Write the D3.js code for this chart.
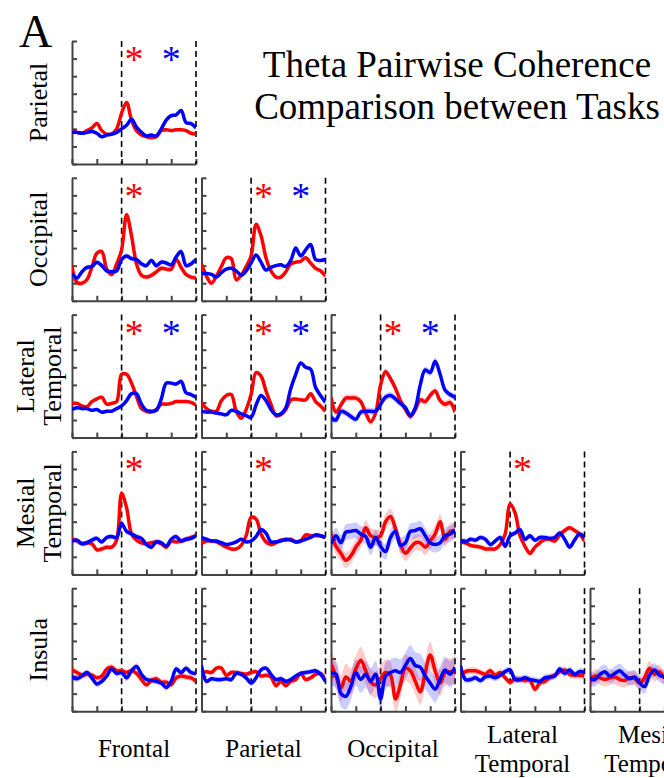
<!DOCTYPE html>
<html lang="en">
<head>
<meta charset="utf-8">
<title>Theta Pairwise Coherence</title>
<script src="https://d3js.org/d3.v7.min.js"></script>
<style>
  body { margin: 0; background: #fff; }
  svg text { font-family: "Liberation Serif", "Times New Roman", serif; }
</style>
</head>
<body>
<div id="chart"></div>
<script>
// time (s) relative to the event, dashed markers at 0 and 3
var times = [-2, -1.8, -1.6, -1.4, -1.2, -1, -0.8, -0.6, -0.4, -0.2, 0, 0.2, 0.4, 0.6, 0.8, 1, 1.2, 1.4, 1.6, 1.8, 2, 2.2, 2.4, 2.6, 2.8, 3];
var xTicks = [-2, -1, 0, 1, 2, 3];
var yTicks = [-2, -1, 0, 1, 2, 3, 4, 5];
var markers = [0, 3];

var rowNames = [["Parietal"], ["Occipital"], ["Lateral", "Temporal"], ["Mesial", "Temporal"], ["Insula"]];
var colNames = [["Frontal"], ["Parietal"], ["Occipital"], ["Lateral", "Temporal"], ["Mesial", "Temporal"]];

// red = task 1, blue = task 2
var parFroRed  = [-0.15,-0.2,-0.25,-0.1,0.05,0.3,-0.1,-0.3,-0.3,0.0,0.9,1.5,0.5,-0.1,-0.35,-0.45,-0.5,-0.45,-0.1,-0.05,-0.1,-0.05,-0.05,-0.1,-0.25,-0.3];
var parFroBlue = [-0.2,-0.2,-0.25,-0.2,-0.15,-0.25,-0.45,-0.35,-0.3,-0.2,0.0,0.2,0.55,0.1,-0.2,-0.4,-0.35,-0.4,0.0,0.5,0.75,0.8,1.05,0.35,0.3,0.05];

var occFroRed  = [-0.05,-0.95,-1.0,-0.8,-0.1,0.7,0.8,-0.2,-0.5,0.1,0.9,2.9,1.7,0.1,-0.55,-0.65,-0.55,-0.35,-0.15,-0.2,-0.2,0.35,-0.1,-0.5,-0.65,-0.7];
var occFroBlue = [-0.45,-0.7,-0.35,-0.1,-0.05,0.2,0.0,-0.3,-0.35,-0.3,0.35,0.55,0.4,0.35,0.1,0.0,0.3,0.0,0.2,0.15,0.05,0.5,0.8,0.0,0.1,0.35];
var occParRed  = [0.1,-0.6,-1.0,-0.6,-0.05,0.45,0.4,-0.8,-0.55,-0.05,0.55,2.35,1.7,0.45,-0.3,-0.65,-0.65,-0.35,0.1,0.2,0.25,0.45,0.15,-0.15,-0.3,-0.6];
var occParBlue = [-0.45,-0.45,-0.5,-0.65,-0.4,-0.2,-0.15,-0.3,-0.55,-0.3,0.15,0.6,0.2,-0.25,-0.1,0.0,0.05,-0.05,0.3,1.0,0.55,0.9,1.2,0.35,0.3,0.35];

var latFroRed  = [-0.05,-0.05,-0.2,-0.25,0.05,0.2,0.3,-0.1,-0.05,0.05,1.6,1.6,1.1,0.35,-0.35,-0.5,-0.55,-0.4,-0.1,-0.1,-0.05,0.05,0.05,0.05,0.0,-0.15];
var latFroBlue = [-0.4,-0.3,-0.35,-0.35,-0.45,-0.4,-0.55,-0.5,-0.5,-0.35,-0.2,0.1,0.5,0.5,-0.1,-0.45,-0.5,-0.45,0.2,1.1,1.1,1.05,1.2,0.55,0.45,0.3];
var latParRed  = [0.0,-0.35,-0.5,-0.5,0.1,0.4,0.45,-0.5,-0.9,-0.4,0.45,1.7,1.5,0.65,-0.1,-0.75,-0.7,-0.4,0.15,0.2,0.15,0.15,0.5,0.05,-0.2,-0.5];
var latParBlue = [-0.5,-0.55,-0.55,-0.6,-0.65,-0.7,-0.45,-0.5,-0.65,-0.75,-0.85,-0.15,0.4,0.1,-0.4,-0.7,-0.65,-0.3,0.8,1.6,2.25,2.0,1.9,0.85,0.4,0.0];
var latOccRed  = [0.3,-0.55,-0.15,0.25,0.25,0.25,0.05,-0.6,-1.1,-0.6,1.0,1.75,1.35,0.8,0.1,-0.4,-0.8,-0.4,0.15,0.05,0.4,0.65,0.1,-0.1,0.0,-0.55];
var latOccBlue = [-0.85,-1.0,-0.5,-0.6,-0.8,-0.95,-0.55,-0.5,-0.5,-0.5,-0.1,0.3,0.4,0.2,-0.05,-0.3,-0.75,-0.3,1.0,1.85,1.7,2.35,1.6,0.7,0.45,0.3];

var mesFroRed  = [0.0,-0.1,-0.25,-0.2,-0.25,-0.6,-0.55,-0.45,-0.45,-0.05,2.6,1.8,0.3,-0.05,-0.2,-0.25,-0.2,-0.15,-0.25,-0.45,-0.1,-0.15,-0.1,0.0,0.1,0.2];
var mesFroBlue = [-0.1,-0.05,-0.25,-0.2,-0.05,0.05,-0.15,0.1,0.15,0.1,0.9,0.45,0.3,0.15,0.05,-0.3,-0.45,-0.15,-0.2,-0.4,0.0,0.15,-0.1,0.0,0.05,0.2];
var mesParRed  = [-0.25,-0.1,-0.1,-0.15,-0.3,-0.45,-0.55,-0.55,-0.35,0.2,1.25,1.15,0.3,-0.15,-0.3,-0.2,-0.05,-0.05,0.0,-0.15,-0.1,0.25,0.2,0.2,0.2,0.1];
var mesParBlue = [0.1,0.0,-0.1,-0.1,-0.2,-0.3,-0.25,-0.15,0.0,-0.15,-0.1,0.15,0.55,0.35,-0.15,-0.15,-0.1,0.0,-0.05,-0.15,-0.1,0.0,0.1,0.25,0.2,0.1];
var mesOccRed  = [0.3,-0.4,-0.8,-1.2,-0.95,-0.45,-0.05,0.65,0.2,0.1,0.2,1.0,1.3,0.6,-0.3,-0.8,-0.5,-0.2,-0.2,-0.45,-0.1,0.3,1.0,0.0,0.45,0.5];
var mesOccBlue = [-0.25,0.2,-0.2,0.4,0.45,0.5,0.3,0.15,-0.45,0.1,-0.4,-0.7,0.1,0.45,-0.35,-0.2,0.45,0.5,0.6,0.2,-0.2,-0.3,-0.2,0.2,0.3,0.5];
var mesLatRed  = [-0.15,-0.2,-0.35,-0.4,-0.45,-0.55,-0.55,-0.55,-0.3,0.3,2.0,1.5,0.2,-0.4,-0.8,-0.45,-0.2,0.0,0.0,-0.1,0.25,0.5,0.65,0.5,0.3,-0.1];
var mesLatBlue = [-0.1,-0.15,0.0,-0.05,0.1,0.0,-0.3,-0.1,0.1,-0.4,0.2,0.35,0.55,0.0,0.2,-0.05,0.1,0.1,0.05,0.1,0.35,0.0,-0.45,-0.05,0.3,0.1];

var insFroRed  = [0.35,0.2,0.05,0.1,0.05,-0.1,0.0,0.4,0.5,0.3,0.3,0.2,0.3,0.15,-0.2,-0.5,-0.25,-0.15,-0.35,-0.35,-0.5,-0.1,0.0,-0.05,-0.1,-0.3];
var insFroBlue = [-0.05,-0.15,0.0,0.2,-0.1,-0.45,-0.3,0.0,0.4,0.15,0.2,-0.1,0.3,0.55,0.1,-0.2,-0.25,-0.3,-0.4,-0.65,-0.3,0.4,0.2,0.45,0.2,0.15];
var insParRed  = [0.15,0.25,0.2,0.45,0.45,0.05,0.2,0.2,0.15,0.1,0.2,0.25,0.0,0.05,-0.05,-0.55,-0.3,-0.55,-0.3,-0.2,0.15,-0.2,-0.1,0.1,0.15,-0.2];
var insParBlue = [0.6,-0.3,-0.15,-0.2,-0.2,-0.15,-0.2,0.15,0.1,-0.1,-0.4,-0.1,0.35,0.45,0.1,-0.2,-0.15,-0.3,-0.2,0.0,0.15,0.2,0.25,0.3,0.1,-0.3];
var insOccRed  = [0.7,0.0,-0.7,-0.05,-0.3,0.4,0.9,0.3,-0.35,-0.5,-0.15,0.2,0.05,-1.3,-0.5,0.45,0.3,-0.3,-0.9,0.2,1.2,0.3,-0.4,0.2,0.25,0.25];
var insOccBlue = [0.15,0.1,-1.0,-1.15,-0.6,0.2,-0.2,0.1,-0.3,0.1,-1.3,0.0,0.2,0.3,0.2,0.6,1.0,0.6,0.5,0.0,-0.4,-0.75,-0.2,0.35,0.1,0.5];
var insLatRed  = [0.0,0.25,0.3,0.3,0.2,0.1,0.3,0.05,0.2,-0.1,-0.35,-0.15,-0.2,-0.25,-0.25,-0.75,-0.4,-0.3,-0.1,0.05,0.25,0.35,0.1,0.05,0.05,0.0];
var insLatBlue = [0.6,-0.2,-0.2,-0.1,-0.25,-0.05,0.0,-0.1,0.05,0.25,0.35,-0.2,-0.2,-0.1,-0.2,-0.25,-0.3,-0.1,-0.05,0.0,0.4,0.15,0.35,0.1,0.25,0.2];
// only the first part of this panel is visible
var insMesRed  = [-0.35,0.0,-0.1,-0.2,-0.1,-0.05,-0.2,-0.25,-0.1,-0.15,-0.4,-0.1,0.45,0.1,0.25,-0.1,0.0];
var insMesBlue = [-0.15,-0.2,0.1,0.25,0.0,0.15,0.3,0.05,-0.15,-0.05,-0.4,-0.6,0.05,0.35,0.05,-0.05,-0.2];

// standard error per panel (red, blue)
var errRed  = [0.1, 0.15, 0.1, 0.1, 0.1, 0.2, 0.15, 0.12, 0.45, 0.15, 0.18, 0.15, 0.75, 0.2, 0.4];
var errBlue = [0.1, 0.15, 0.1, 0.1, 0.1, 0.2, 0.15, 0.12, 0.45, 0.15, 0.18, 0.15, 0.75, 0.2, 0.4];
// significant differences (red star, blue star)
var sigRed  = [1, 1, 1, 1, 1, 1, 1, 1, 0, 1, 0, 0, 0, 0, 0];
var sigBlue = [1, 0, 1, 1, 1, 1, 0, 0, 0, 0, 0, 0, 0, 0, 0];

var panelCells = [[0,0],[1,0],[1,1],[2,0],[2,1],[2,2],[3,0],[3,1],[3,2],[3,3],[4,0],[4,1],[4,2],[4,3],[4,4]];
var redSeries  = [parFroRed, occFroRed, occParRed, latFroRed, latParRed, latOccRed, mesFroRed, mesParRed, mesOccRed, mesLatRed, insFroRed, insParRed, insOccRed, insLatRed, insMesRed];
var blueSeries = [parFroBlue, occFroBlue, occParBlue, latFroBlue, latParBlue, latOccBlue, mesFroBlue, mesParBlue, mesOccBlue, mesLatBlue, insFroBlue, insParBlue, insOccBlue, insLatBlue, insMesBlue];

var W = 664, H = 778;
var panelW = 124, panelH = 123;
var left0 = 72, colStep = 129.5, top0 = 41, rowStep = 136.8;
var RED = "#ff0000", BLUE = "#0000ff", AXIS = "#444";

var svg = d3.select("#chart").append("svg")
  .attr("width", W).attr("height", H)
  .style("background", "#fff");

var x = d3.scaleLinear().domain([-2, 3]).range([0, panelW]);
var y = d3.scaleLinear().domain([-2, 5]).range([panelH, 0]);

var curve = d3.curveCatmullRom.alpha(0.5);
var line = d3.line().x(function(d) { return x(d[0]); }).y(function(d) { return y(d[1]); }).curve(curve);
var band = d3.area().x(function(d) { return x(d[0]); })
  .y0(function(d) { return y(d[1] - d[2]); })
  .y1(function(d) { return y(d[1] + d[2]); })
  .curve(curve);

var defs = svg.append("defs");

panelCells.forEach(function(cell, i) {
  var r = cell[0], c = cell[1];
  var g = svg.append("g").attr("transform", "translate(" + (left0 + c * colStep) + "," + (top0 + r * rowStep) + ")");

  defs.append("clipPath").attr("id", "clip" + i)
    .append("rect").attr("width", panelW).attr("height", panelH);

  // axes, ticks pointing inward
  var ya = g.append("g").call(d3.axisLeft(y).tickValues(yTicks).tickSize(-5).tickSizeOuter(0).tickFormat(""));
  var xa = g.append("g").attr("transform", "translate(0," + panelH + ")")
    .call(d3.axisBottom(x).tickValues(xTicks).tickSize(-5).tickSizeOuter(0).tickFormat(""));
  [ya, xa].forEach(function(a) {
    a.selectAll("path, line").attr("stroke", AXIS).attr("stroke-width", 2);
  });

  g.selectAll("line.marker").data(markers).enter().append("line")
    .attr("class", "marker")
    .attr("x1", function(d) { return x(d); }).attr("x2", function(d) { return x(d); })
    .attr("y1", 0).attr("y2", panelH)
    .attr("stroke", "#000").attr("stroke-width", 1.6)
    .attr("stroke-dasharray", "6,4");

  var plot = g.append("g").attr("clip-path", "url(#clip" + i + ")");
  var redPts = redSeries[i].map(function(v, k) { return [times[k], v, errRed[i]]; });
  var bluePts = blueSeries[i].map(function(v, k) { return [times[k], v, errBlue[i]]; });

  plot.append("path").attr("d", band(redPts)).attr("fill", RED).attr("fill-opacity", 0.2);
  plot.append("path").attr("d", band(bluePts)).attr("fill", BLUE).attr("fill-opacity", 0.2);
  plot.append("path").attr("d", line(redPts)).attr("fill", "none").attr("stroke", RED)
    .attr("stroke-width", 3.5).attr("stroke-linejoin", "round");
  plot.append("path").attr("d", line(bluePts)).attr("fill", "none").attr("stroke", BLUE)
    .attr("stroke-width", 3.5).attr("stroke-linejoin", "round");

  if (sigRed[i]) {
    g.append("text").attr("x", x(0.5)).attr("y", 31).attr("text-anchor", "middle")
      .attr("font-size", 38).attr("fill", RED).text("*");
  }
  if (sigBlue[i]) {
    g.append("text").attr("x", x(2)).attr("y", 31).attr("text-anchor", "middle")
      .attr("font-size", 38).attr("fill", BLUE).text("*");
  }
});

// row labels
rowNames.forEach(function(lines, r) {
  var cy = top0 + r * rowStep + panelH / 2;
  var xs = lines.length === 1 ? [47] : [34, 61];
  lines.forEach(function(t, k) {
    svg.append("text")
      .attr("transform", "translate(" + xs[k] + "," + cy + ") rotate(-90)")
      .attr("text-anchor", "middle").attr("font-size", 26).attr("fill", "#000")
      .text(t);
  });
});

// column labels (the last one runs past the right edge, as in the figure)
colNames.forEach(function(lines, c) {
  var cx = left0 + c * colStep + panelW / 2;
  var ys = lines.length === 1 ? [757] : [743, 772];
  lines.forEach(function(t, k) {
    svg.append("text").attr("x", cx).attr("y", ys[k])
      .attr("text-anchor", "middle").attr("font-size", 25).attr("fill", "#000")
      .text(t);
  });
});

svg.append("text").attr("x", 19).attr("y", 47).attr("font-size", 46).text("A");
svg.append("text").attr("x", 457).attr("y", 77).attr("text-anchor", "middle")
  .attr("font-size", 37).text("Theta Pairwise Coherence");
svg.append("text").attr("x", 457).attr("y", 119).attr("text-anchor", "middle")
  .attr("font-size", 37).text("Comparison between Tasks");
</script>
</body>
</html>
